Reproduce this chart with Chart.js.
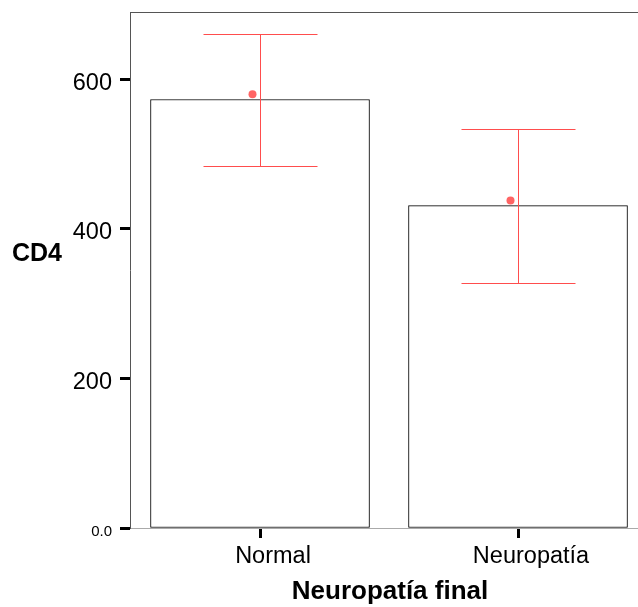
<!DOCTYPE html>
<html>
<head>
<meta charset="utf-8">
<script src="https://cdn.jsdelivr.net/npm/chart.js@4"></script>
<style>
  html, body { margin: 0; padding: 0; background: #fff; }
  #wrap { width: 638px; height: 607px; }
</style>
</head>
<body>
<div id="wrap"><canvas id="chart" width="638" height="607"></canvas></div>
<script>
const categories = ['Normal', 'Neuropatía'];
const catPositions = [1, 2];
const barValues = [573, 431];
const errLow = [484, 328];
const errHigh = [661, 534];
const meanValues = [580, 438];
const yTicks = [0, 200, 400, 600];

const FONT = "'Liberation Sans', Arial, sans-serif";
const RED = '#ff4d4d';

// error bars + mean markers, drawn through the scales
const errorBarPlugin = {
  id: 'errorBars',
  afterDatasetsDraw(chart) {
    const ctx = chart.ctx;
    const xs = chart.scales.x, ys = chart.scales.y;
    ctx.save();
    ctx.strokeStyle = RED;
    ctx.lineWidth = 1;
    catPositions.forEach((c, i) => {
      const x = Math.round(xs.getPixelForValue(c)) + 0.5;
      const yl = Math.round(ys.getPixelForValue(errLow[i])) + 0.5;
      const yh = Math.round(ys.getPixelForValue(errHigh[i])) + 0.5;
      const cap = 57;
      ctx.beginPath();
      ctx.moveTo(x, yl); ctx.lineTo(x, yh);
      ctx.moveTo(x - cap, yl); ctx.lineTo(x + cap, yl);
      ctx.moveTo(x - cap, yh); ctx.lineTo(x + cap, yh);
      ctx.stroke();
      // mean marker, slightly jittered left like the original
      const my = ys.getPixelForValue(meanValues[i]);
      ctx.fillStyle = '#ff6464';
      ctx.beginPath();
      ctx.arc(x - 8, my, 4, 0, Math.PI * 2);
      ctx.fill();
    });
    ctx.restore();
  },
  afterDraw(chart) {
    const ctx = chart.ctx;
    const a = chart.chartArea;
    ctx.save();
    // frame top only (no right edge in the original)
    ctx.strokeStyle = '#555';
    ctx.lineWidth = 1;
    ctx.beginPath();
    ctx.moveTo(a.left, a.top + 0.5); ctx.lineTo(chart.width, a.top + 0.5);
    ctx.stroke();
    // axis titles
    ctx.fillStyle = '#000';
    ctx.textBaseline = 'middle';
    ctx.font = 'bold 25px ' + FONT;
    ctx.textAlign = 'left';
    ctx.fillText('CD4', 12, 254);
    ctx.font = 'bold 26px ' + FONT;
    ctx.textAlign = 'center';
    ctx.fillText('Neuropatía final', 390, 592);
    ctx.restore();
  }
};

new Chart(document.getElementById('chart'), {
  type: 'bar',
  data: {
    datasets: [{
      data: catPositions.map((c, i) => ({ x: c, y: barValues[i] })),
      backgroundColor: '#fff',
      borderColor: '#000',
      borderWidth: 1,
      borderSkipped: false,
      barThickness: 219,
      grouped: false
    }]
  },
  options: {
    responsive: false,
    animation: false,
    layout: { padding: { top: 12, right: 1, left: 0, bottom: 0 } },
    plugins: { legend: { display: false }, tooltip: { enabled: false } },
    scales: {
      x: {
        type: 'linear',
        offset: false,
        min: 0.4961,
        max: 2.4612,
        afterBuildTicks: s => { s.ticks = catPositions.map(v => ({ value: v })); },
        afterFit: s => { s.height = 79; s.paddingLeft = 0; s.paddingRight = 0; },
        ticks: {
          color: '#000',
          padding: 4,
          labelOffset: 13,
          font: { family: FONT, size: 23.5 },
          callback: v => categories[catPositions.indexOf(v)] || ''
        },
        grid: { offset: false, drawOnChartArea: false, drawTicks: true, tickLength: 10, tickWidth: 3, tickColor: '#000' },
        border: { color: '#aaa', width: 1 }
      },
      y: {
        min: 0,
        max: 690,
        afterBuildTicks: s => { s.ticks = yTicks.map(v => ({ value: v })); },
        afterFit: s => { s.width = 130; s.paddingTop = 0; s.paddingBottom = 0; },
        ticks: {
          color: '#000',
          padding: 8,
          labelOffset: 4,
          font: c => (c.tick && c.tick.value === 0) ? { family: FONT, size: 15 } : { family: FONT, size: 23.5 },
          callback: v => v === 0 ? '0.0' : String(v)
        },
        grid: { drawOnChartArea: false, drawTicks: true, tickLength: 10, tickWidth: 3, tickColor: '#000' },
        border: { color: '#555', width: 1 }
      }
    }
  },
  plugins: [errorBarPlugin]
});
</script>
</body>
</html>
